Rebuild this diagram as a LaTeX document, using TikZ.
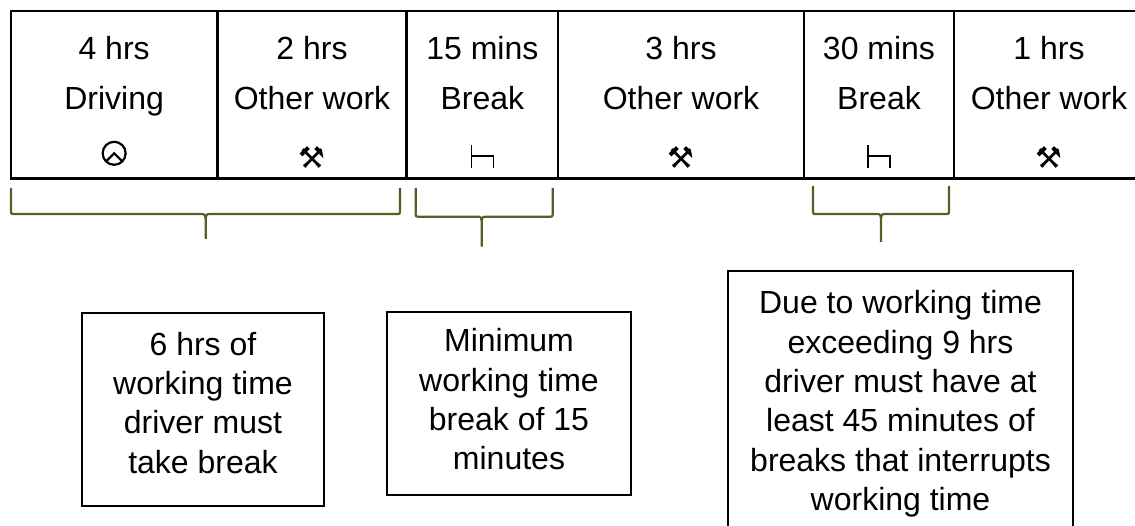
\documentclass[tikz,border=0pt]{standalone}
\usepackage{fontspec}
\setmainfont{Liberation Sans}
\newfontfamily\symbolfont{DejaVu Sans}
\usepackage{tikz}
\usetikzlibrary{positioning}
\definecolor{bracegreen}{RGB}{79,98,40}

\begin{document}
\begin{tikzpicture}[x=1pt,y=-1pt]
\tikzstyle{cell}=[rectangle, draw=black, line width=2.5pt, outer sep=0pt, inner sep=0pt, minimum height=167.3pt]
\tikzstyle{lbl}=[inner sep=0pt, align=center, font=\fontsize{32}{50}\selectfont]
\tikzstyle{note}=[rectangle, draw=black, line width=1.6pt, outer sep=0pt, inner sep=0pt]
\tikzstyle{notetext}=[inner sep=0pt, align=center, font=\fontsize{32}{39.3}\selectfont]
\tikzstyle{icon}=[line width=2.2pt]
\tikzstyle{hammer}=[inner sep=0pt, font=\symbolfont\fontsize{30}{30}\selectfont]
\tikzstyle{brace}=[draw=bracegreen, line width=2.2pt]
\useasboundingbox (0,0) rectangle (1135,526);

  % time line
  \node[cell, minimum width=206.3pt, anchor=north west] (drive) at (11,11) {};
  \node[cell, minimum width=189.4pt] (work1) [right=0pt of drive] {};
  \node[cell, minimum width=151.3pt] (break1) [right=0pt of work1] {};
  \node[cell, minimum width=246pt] (work2) [right=0pt of break1] {};
  \node[cell, minimum width=150pt] (break2) [right=0pt of work2] {};
  \node[cell, minimum width=190pt] (work3) [right=0pt of break2] {};

  \node[lbl] (driveT) [below=25.5pt of drive.north] {4 hrs\\Driving};
  \node[lbl] (work1T) [below=25.5pt of work1.north] {2 hrs\\Other work};
  \node[lbl] (break1T) [below=25.5pt of break1.north] {15 mins\\Break};
  \node[lbl] (work2T) [below=25.5pt of work2.north] {3 hrs\\Other work};
  \node[lbl] (break2T) [below=25.5pt of break2.north] {30 mins\\Break};
  \node[lbl] (work3T) [below=25.5pt of work3.north] {1 hrs\\Other work};

  % symbols
  \coordinate (wheel) at ([yshift=25pt]drive.south);
  \draw[icon] (wheel) circle (11.5);
  \draw[icon] ([shift={(-8.2,8.2)}]wheel) -- (wheel) -- ([shift={(8.2,8.2)}]wheel);
  \node[hammer] (tool1) at ([yshift=21pt]work1.south) {⚒};
  \node[hammer] (tool2) at ([yshift=21pt]work2.south) {⚒};
  \node[hammer] (tool3) at ([yshift=21pt]work3.south) {⚒};
  \coordinate (bed1) at ([yshift=22pt]break1.south);
  \coordinate (bed2) at ([yshift=22pt]break2.south);
  \draw[icon, line width=1.7pt] ([shift={(-11,-11)}]bed1) -- ([shift={(-11,11.5)}]bed1)
        ([shift={(-11,0)}]bed1) -- ([shift={(11,0)}]bed1) -- ([shift={(11,11.5)}]bed1);
  \draw[icon, line width=1.7pt] ([shift={(-11,-11)}]bed2) -- ([shift={(-11,11.5)}]bed2)
        ([shift={(-11,0)}]bed2) -- ([shift={(11,0)}]bed2) -- ([shift={(11,11.5)}]bed2);

  % braces
  \draw[brace] (11,188) -- (11,210) .. controls (11,214) .. (15,214) -- (200,214)
        .. controls (205.7,214) .. (205.7,224) -- (205.7,239)
        (205.7,224) .. controls (205.7,214) .. (211,214) -- (396,214)
        .. controls (400,214) .. (400,210) -- (400,188);
  \draw[brace] (415.7,188) -- (415.7,212.7) .. controls (415.7,216.7) .. (419.7,216.7) -- (476.7,216.7)
        .. controls (481.7,216.7) .. (481.7,226.7) -- (481.7,246.7)
        (481.7,226.7) .. controls (481.7,216.7) .. (486.7,216.7) -- (548.7,216.7)
        .. controls (552.7,216.7) .. (552.7,212.7) -- (552.7,188);
  \draw[brace] (813,186) -- (813,210) .. controls (813,214) .. (817,214) -- (876,214)
        .. controls (881,214) .. (881,224) -- (881,242)
        (881,224) .. controls (881,214) .. (886,214) -- (945,214)
        .. controls (949,214) .. (949,210) -- (949,186);

  % rules
  \node[note, minimum width=242pt, minimum height=193pt] (rule1) at (203,409.5) {};
  \node[note, minimum width=244pt, minimum height=183pt] (rule2) at (509,403.5) {};
  \node[note, minimum width=345pt, minimum height=268pt] (rule3) at (900.5,405) {};
  \node[notetext] (rule1T) [below=18.8pt of rule1.north] {6 hrs of\\working time\\driver must\\take break};
  \node[notetext] (rule2T) [below=16.5pt of rule2.north] {Minimum\\working time\\break of 15\\minutes};
  \node[notetext] (rule3T) [below=19.5pt of rule3.north] {Due to working time\\exceeding 9 hrs\\driver must have at\\least 45 minutes of\\breaks that interrupts\\working time};
\end{tikzpicture}
\end{document}
